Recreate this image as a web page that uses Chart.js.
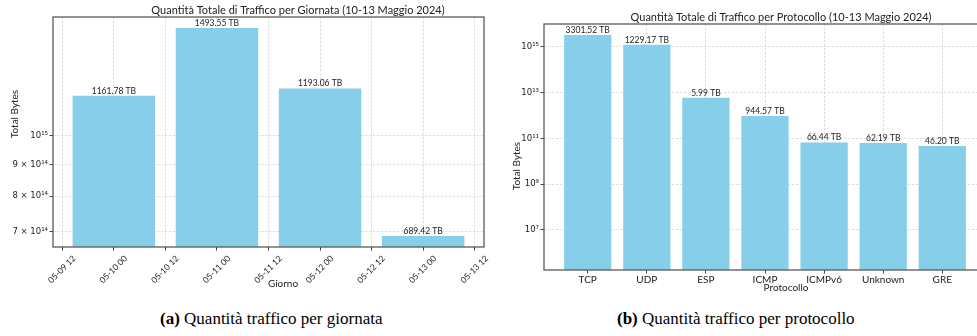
<!DOCTYPE html>
<html lang="it">
<head>
<meta charset="utf-8">
<title>Quantità di traffico</title>
<script src="https://cdn.jsdelivr.net/npm/chart.js@4.4.1/dist/chart.umd.min.js"></script>
<style>
  html, body { margin: 0; padding: 0; background: #fff; width: 977px; height: 336px; overflow: hidden; }
  .panel { position: absolute; top: 0; }
  #dayPanel { left: 0; width: 490px; height: 300px; }
  #protoPanel { left: 490px; width: 510px; height: 300px; }
  .caption { position: absolute; top: 309px; font-family: "Liberation Serif", "Times New Roman", serif; font-size: 17px; color: #000; white-space: nowrap; }
  .caption b { font-weight: bold; }
</style>
</head>
<body>
<div class="panel" id="dayPanel"><canvas id="dayChart" width="490" height="300"></canvas></div>
<div class="panel" id="protoPanel"><canvas id="protoChart" width="510" height="300"></canvas></div>
<div class="caption" style="left:160px"><b>(a)</b> Quantità traffico per giornata</div>
<div class="caption" style="left:617px"><b>(b)</b> Quantità traffico per protocollo</div>

<script>
// ---- data -------------------------------------------------------------
const YEAR = '2024';
const dayDates = ['2024-05-10', '2024-05-11', '2024-05-12', '2024-05-13'];
const dayTotalsTB = [1161.78, 1493.55, 1193.06, 689.42];
const dayTickLabels = ['05-09 12', '05-10 00', '05-10 12', '05-11 00', '05-11 12',
                       '05-12 00', '05-12 12', '05-13 00', '05-13 12'];
const dayYTicks = [7e14, 8e14, 9e14, 1e15];

const protocols = ['TCP', 'UDP', 'ESP', 'ICMP', 'ICMPv6', 'Unknown', 'GRE'];
const protocolAmounts = [3301.52, 1229.17, 5.99, 944.57, 66.44, 62.19, 46.20];
const protocolUnitBytes = [1e12, 1e12, 1e12, 1e9, 1e9, 1e9, 1e9];
const protocolYTicks = [1e7, 1e9, 1e11, 1e13, 1e15];

// ---- styling ----------------------------------------------------------
const BAR = '#87ceeb';
const GRID = 'rgba(128,128,128,0.32)';
const SPINE = '#5a5a5a';
const TXT = '#222';
const UI_FONT = 'Lato, "Open Sans", sans-serif';
const MATH_FONT = '"DejaVu Sans", sans-serif';
const HOUR = 3600e3;

const SUP = { '0': '⁰', '1': '¹', '2': '²', '3': '³', '4': '⁴', '5': '⁵', '6': '⁶', '7': '⁷', '8': '⁸', '9': '⁹', '-': '⁻' };
function sciLabel(v) {
  const e = Math.floor(Math.log10(v) + 1e-9);
  const m = Math.round(v / Math.pow(10, e));
  const pow = '10' + String(e).split('').map(c => SUP[c]).join('');
  return m === 1 ? pow : m + ' × ' + pow;
}

// ---- plugins ----------------------------------------------------------
// box around the plot area, spines on all four sides
const framePlugin = {
  id: 'frame',
  afterDraw(chart, args, opts) {
    const { ctx, chartArea: a } = chart;
    ctx.save();
    ctx.strokeStyle = opts.color;
    ctx.lineWidth = opts.width;
    ctx.strokeRect(a.left, a.top, a.right - a.left, a.bottom - a.top);
    ctx.restore();
  }
};

// value printed above every bar
const valueLabelPlugin = {
  id: 'valueLabels',
  afterDraw(chart, args, opts) {
    const { ctx } = chart;
    const meta = chart.getDatasetMeta(0);
    ctx.save();
    ctx.font = opts.font;
    ctx.fillStyle = TXT;
    ctx.textAlign = 'center';
    ctx.textBaseline = 'bottom';
    meta.data.forEach((bar, i) => ctx.fillText(opts.labels[i], bar.x, bar.y - 0.5));
    ctx.restore();
  }
};

// chart title and axis titles
const figureTextPlugin = {
  id: 'figureText',
  afterDraw(chart, args, opts) {
    const { ctx } = chart;
    opts.items.forEach(t => {
      ctx.save();
      ctx.font = t.font;
      ctx.fillStyle = TXT;
      ctx.textAlign = 'center';
      ctx.textBaseline = 'middle';
      ctx.translate(t.x, t.y);
      if (t.rotate) ctx.rotate(t.rotate);
      ctx.fillText(t.text, 0, 0);
      ctx.restore();
    });
  }
};

function gridOpts() {
  return { offset: false, color: GRID, lineWidth: 0.8, tickColor: '#444', tickLength: 3.5, tickWidth: 1, tickBorderDash: [] };
}
const GRID_DASH = [2.5, 1.5];

// ---- chart (a): traffic per day ---------------------------------------
const dayX = dayDates.map(d => Date.parse(d + 'T00:00:00Z'));
const dayTickX = dayTickLabels.map(s => {
  const [md, h] = s.split(' ');
  return Date.parse(`${YEAR}-${md}T${h}:00:00Z`);
});

new Chart(document.getElementById('dayChart'), {
  type: 'bar',
  data: {
    datasets: [{
      data: dayX.map((x, i) => ({ x, y: dayTotalsTB[i] * 1e12 })),
      backgroundColor: BAR,
      borderWidth: 0,
      // ticks are every 12 h, bars every 24 h: 1.6 of a tick step = 0.8 of a day
      barPercentage: 1.6,
      categoryPercentage: 1.0
    }]
  },
  options: {
    responsive: false,
    animation: false,
    devicePixelRatio: 1,
    layout: { padding: { left: 0, right: 6, top: 17, bottom: 5 } },
    plugins: {
      legend: { display: false },
      tooltip: { enabled: false },
      frame: { color: SPINE, width: 1.3 },
      valueLabels: { font: `8.5px ${UI_FONT}`, labels: dayTotalsTB.map(v => v.toFixed(2) + ' TB') },
      figureText: {
        items: [
          { text: 'Quantità Totale di Traffico per Giornata (10-13 Maggio 2024)', x: 298, y: 10, font: `11px ${UI_FONT}` },
          { text: 'Giorno', x: 283, y: 284, font: `10px ${UI_FONT}` },
          { text: 'Total Bytes', x: 15, y: 114, rotate: -Math.PI / 2, font: `10px ${UI_FONT}` }
        ]
      }
    },
    scales: {
      x: {
        type: 'linear',
        offset: false,
        z: 1,
        min: dayTickX[0] - 2.17 * HOUR,
        max: dayTickX[dayTickX.length - 1] + 2.17 * HOUR,
        afterBuildTicks: s => { s.ticks = dayTickX.map(v => ({ value: v })); },
        afterFit: s => { s.height = 48; },
        grid: gridOpts(),
        border: { display: false, dash: GRID_DASH },
        ticks: {
          callback: (v, i) => dayTickLabels[i],
          minRotation: 45, maxRotation: 45,
          labelOffset: 12,
          padding: 3,
          color: TXT,
          font: { family: UI_FONT, size: 8.5 }
        }
      },
      y: {
        type: 'logarithmic',
        z: 1,
        min: 6.62e14,
        max: 1.556e15,
        afterBuildTicks: s => { s.ticks = dayYTicks.map(v => ({ value: v })); },
        afterFit: s => { s.width = 53; },
        grid: gridOpts(),
        border: { display: false, dash: GRID_DASH },
        ticks: {
          callback: v => sciLabel(v),
          padding: 1.5,
          color: TXT,
          font: { family: MATH_FONT, size: 8.5 }
        }
      }
    }
  },
  plugins: [framePlugin, valueLabelPlugin, figureTextPlugin]
});

// ---- chart (b): traffic per protocol ----------------------------------
new Chart(document.getElementById('protoChart'), {
  type: 'bar',
  data: {
    datasets: [{
      data: protocols.map((p, i) => ({ x: i, y: protocolAmounts[i] * protocolUnitBytes[i] })),
      backgroundColor: BAR,
      borderWidth: 0,
      barPercentage: 0.8,
      categoryPercentage: 1.0
    }]
  },
  options: {
    responsive: false,
    animation: false,
    devicePixelRatio: 1,
    layout: { padding: { left: 0, right: 14, top: 24, bottom: 5 } },
    plugins: {
      legend: { display: false },
      tooltip: { enabled: false },
      frame: { color: SPINE, width: 1.3 },
      valueLabels: { font: `8.5px ${UI_FONT}`, labels: protocolAmounts.map(v => v.toFixed(2) + ' TB') },
      figureText: {
        items: [
          { text: 'Quantità Totale di Traffico per Protocollo (10-13 Maggio 2024)', x: 291, y: 17, font: `11px ${UI_FONT}` },
          { text: 'Protocollo', x: 296, y: 288, font: `10px ${UI_FONT}` },
          { text: 'Total Bytes', x: 27, y: 166, rotate: -Math.PI / 2, font: `10px ${UI_FONT}` }
        ]
      }
    },
    scales: {
      x: {
        type: 'linear',
        offset: false,
        z: 1,
        min: -0.74,
        max: protocols.length - 1 + 0.74,
        afterBuildTicks: s => { s.ticks = protocols.map((p, i) => ({ value: i })); },
        afterFit: s => { s.height = 25; },
        grid: gridOpts(),
        border: { display: false, dash: GRID_DASH },
        ticks: {
          callback: v => protocols[v],
          maxRotation: 0, minRotation: 0,
          padding: 0.5,
          color: TXT,
          font: { family: UI_FONT, size: 10 }
        }
      },
      y: {
        type: 'logarithmic',
        z: 1,
        min: 1.77e5,
        max: 1.0e16,
        afterBuildTicks: s => { s.ticks = protocolYTicks.map(v => ({ value: v })); },
        afterFit: s => { s.width = 54; },
        grid: gridOpts(),
        border: { display: false, dash: GRID_DASH },
        ticks: {
          callback: v => sciLabel(v),
          padding: 1.5,
          color: TXT,
          font: { family: MATH_FONT, size: 8.5 }
        }
      }
    }
  },
  plugins: [framePlugin, valueLabelPlugin, figureTextPlugin]
});
</script>
</body>
</html>
